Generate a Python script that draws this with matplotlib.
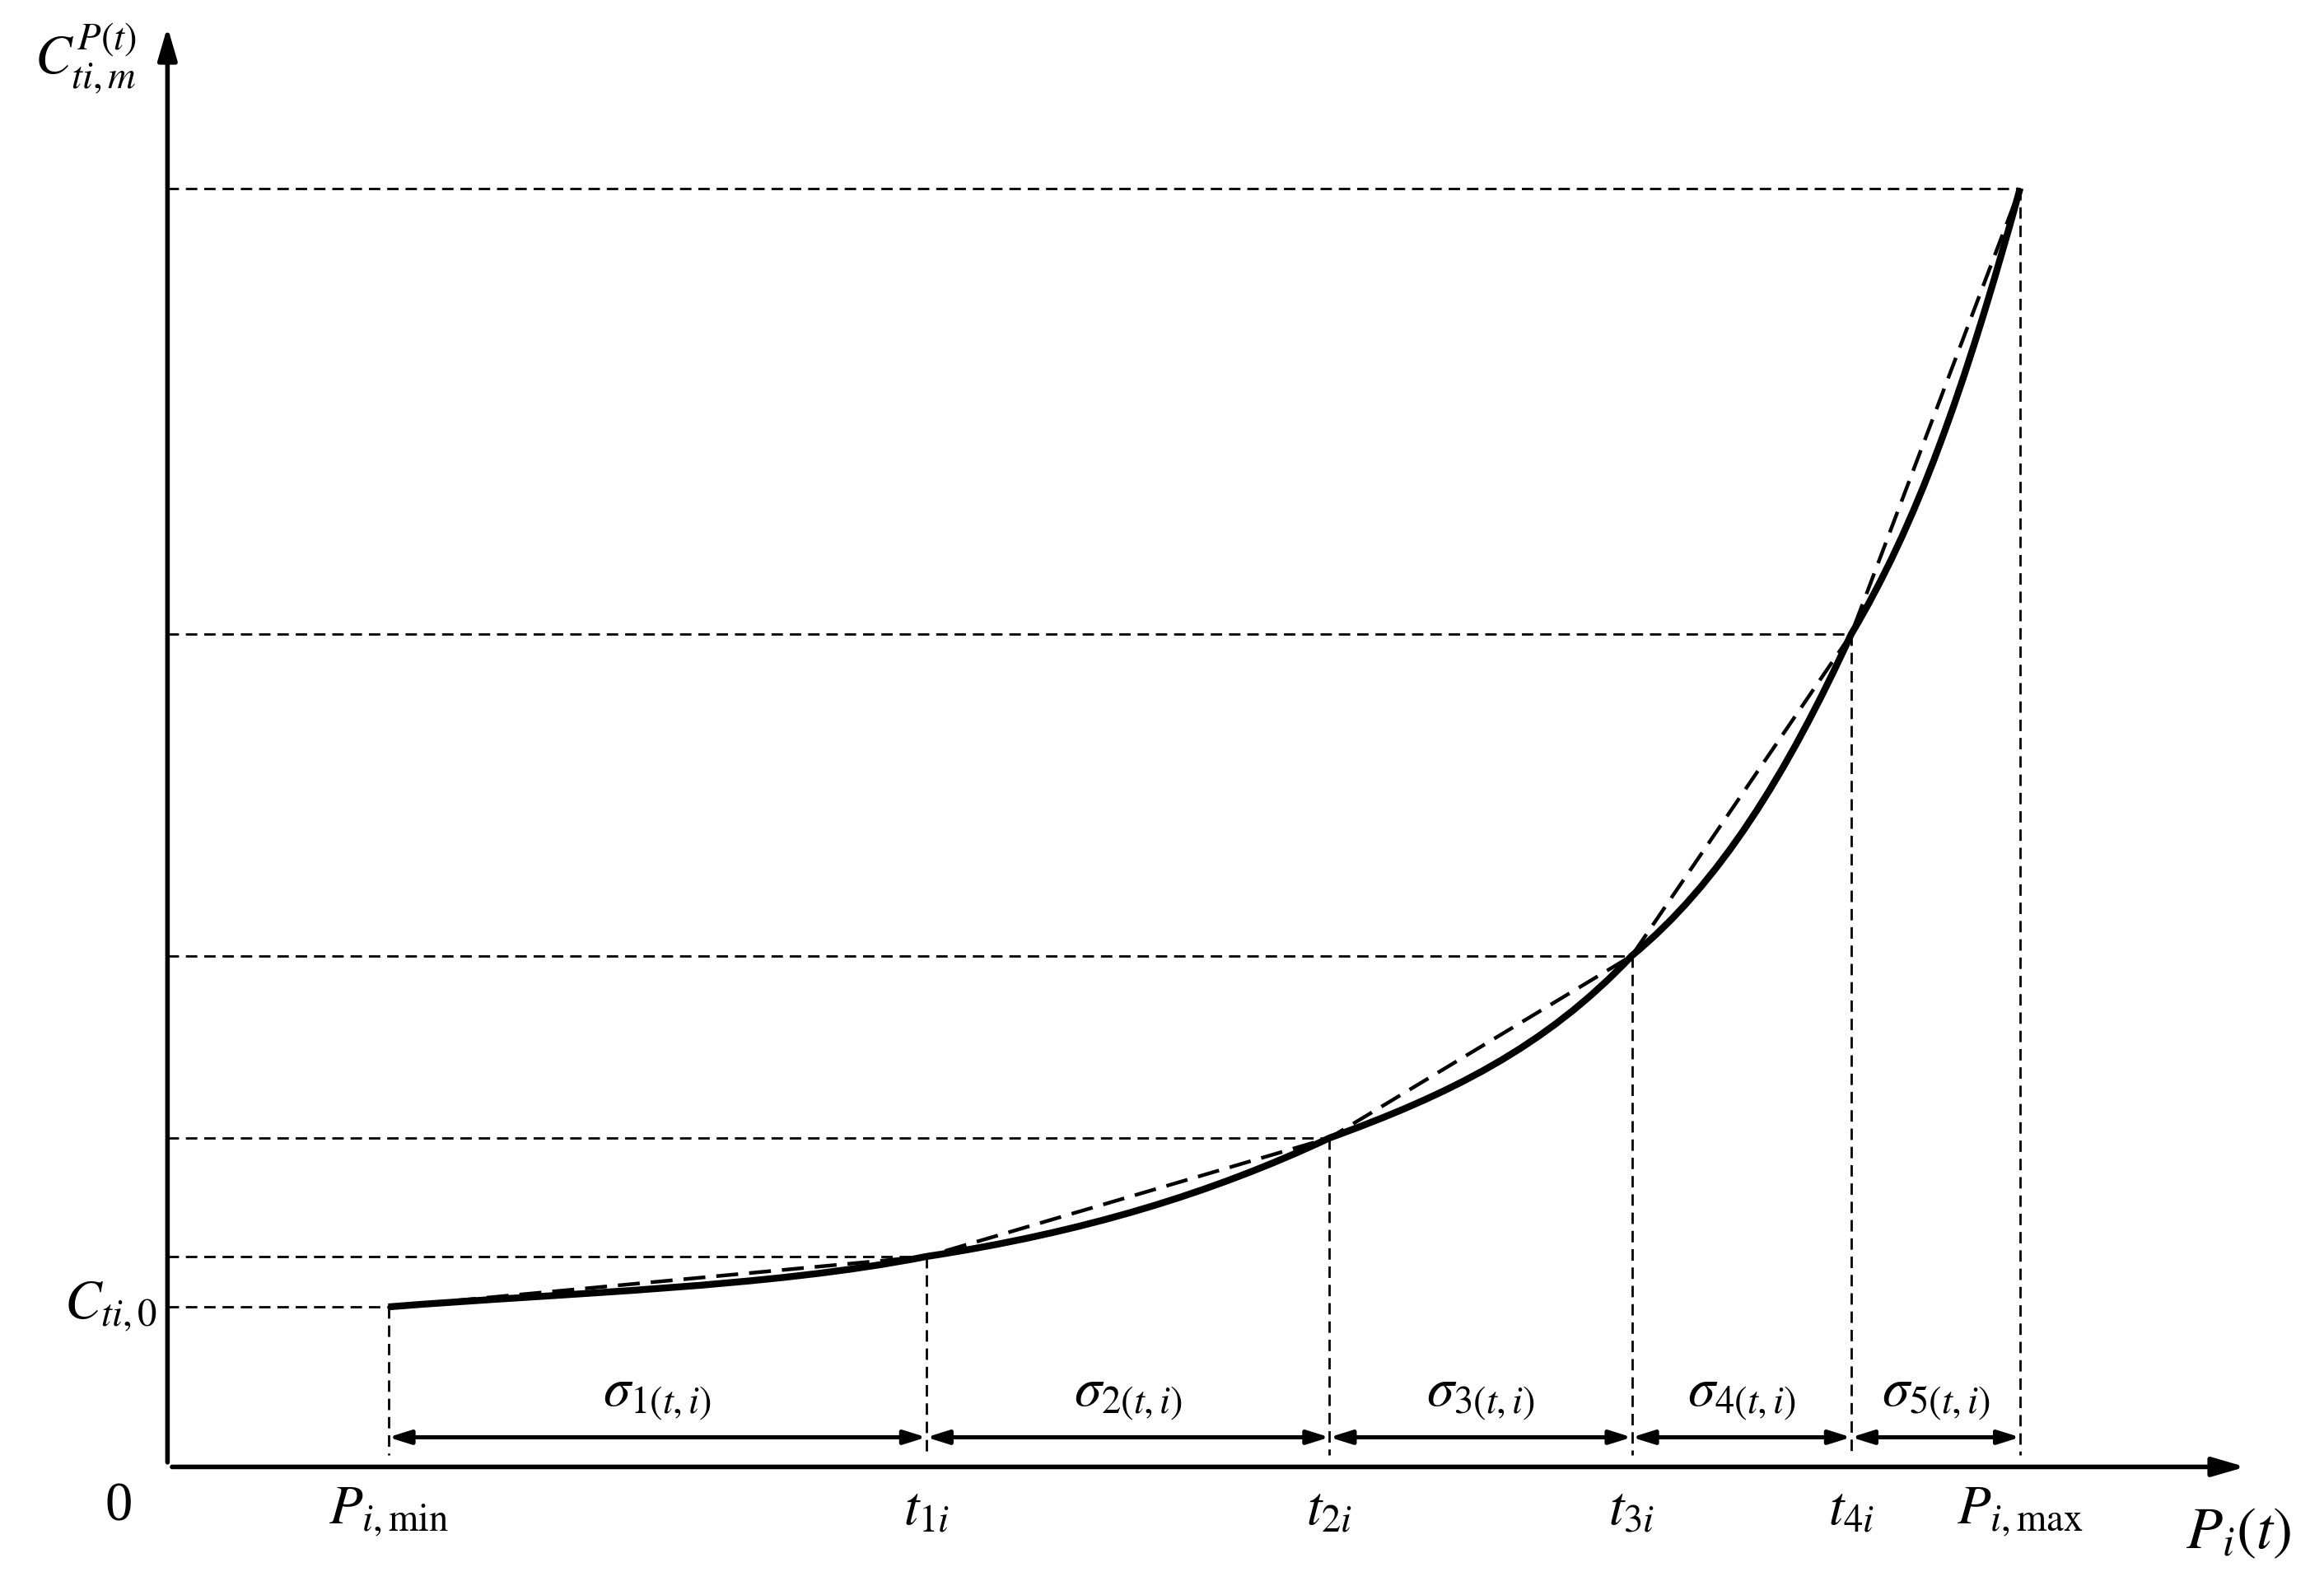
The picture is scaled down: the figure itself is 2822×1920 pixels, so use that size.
import numpy as np
import matplotlib.pyplot as plt
from matplotlib.path import Path
from matplotlib.patches import PathPatch

plt.rcParams['mathtext.fontset'] = 'stix'
plt.rcParams['font.family'] = ['Liberation Serif', 'DejaVu Serif']

# knot positions (x) and cost values (y), in picture units
knot_x = [149, 512, 784, 988, 1136, 1250]
knot_y = [108, 142, 222, 345, 562, 863]
x_labels = [r'$P_{i,\mathrm{min}}$', r'$t_{1i}$', r'$t_{2i}$', r'$t_{3i}$', r'$t_{4i}$', r'$P_{i,\mathrm{max}}$']
seg_labels = [r'$\sigma_{%d(t,i)}$' % k for k in range(1, 6)]

fig = plt.figure(figsize=(14.11, 9.6), dpi=200)
ax = fig.add_axes([0, 0, 1, 1])
ax.set_xlim(-113, 1455)
ax.set_ylim(-77, 990)
ax.axis('off')

# axes with arrows
ax.annotate('', xy=(1405, 0), xytext=(0, 0),
            arrowprops=dict(arrowstyle='-|>,head_length=1.2,head_width=0.35', color='black', lw=2))
ax.annotate('', xy=(0, 975), xytext=(0, 0),
            arrowprops=dict(arrowstyle='-|>,head_length=1.2,head_width=0.35', color='black', lw=2))

# smooth solid curve through the knots (cubic Bezier, Catmull-Rom tangents)
kx, ky = np.array(knot_x, float), np.array(knot_y, float)
n = len(kx)
tx = np.gradient(kx)
ty = np.gradient(ky)
ty[-1] = (ky[-1] - ky[-2]) * 1.25
verts = [(kx[0], ky[0])]
codes = [Path.MOVETO]
for i in range(n - 1):
    verts += [(kx[i] + tx[i] / 3, ky[i] + ty[i] / 3 * 0.85),
              (kx[i + 1] - tx[i + 1] / 3, ky[i + 1] - ty[i + 1] / 3 * 1.1),
              (kx[i + 1], ky[i + 1])]
    codes += [Path.CURVE4] * 3
ax.add_patch(PathPatch(Path(verts, codes), fill=False, lw=3, color='black'))

# dashed chords
ax.plot(knot_x, knot_y, color='black', lw=1.6, dashes=(6, 3))

for x, y, lab in zip(knot_x, knot_y, x_labels):
    ax.plot([0, x], [y, y], color='black', lw=1, dashes=(5, 3))
    ax.plot([x, x], [y, 8], color='black', lw=1, dashes=(5, 3))
    ax.text(x, -30, lab, ha='center', va='center', fontsize=24)

for i, lab in enumerate(seg_labels):
    ax.annotate('', xy=(knot_x[i + 1], 20), xytext=(knot_x[i], 20),
                arrowprops=dict(arrowstyle='<|-|>,head_length=0.8,head_width=0.25',
                                color='black', lw=1.8, shrinkA=0, shrinkB=0))
    ax.text((knot_x[i] + knot_x[i + 1]) / 2, 47, lab, ha='center', va='center', fontsize=24)

ax.text(-33, -27, '0', ha='center', va='center', fontsize=24)
ax.text(-38, 108, r'$C_{ti,0}$', ha='center', va='center', fontsize=24)
ax.text(-55, 950, r'$C_{ti,m}^{P(t)}$', ha='center', va='center', fontsize=24)
ax.text(1397, -45, r'$P_i(t)$', ha='center', va='center', fontsize=26)

fig.savefig('out.png', dpi=200)
